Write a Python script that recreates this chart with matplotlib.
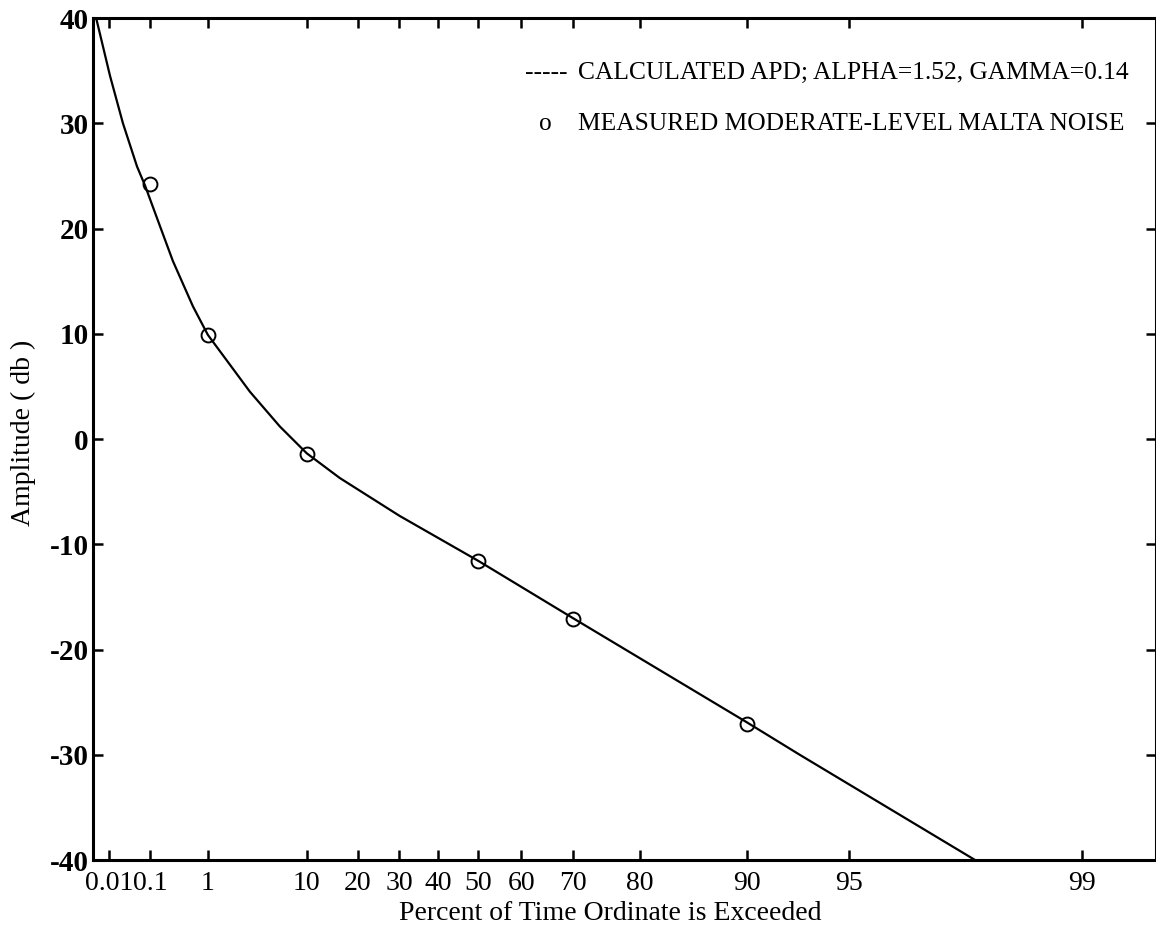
import matplotlib.pyplot as plt
import numpy as np

# percent of time the ordinate is exceeded
curve_pct = [0.0042, 0.0107, 0.0236, 0.0517, 0.078, 0.139, 0.279, 0.603, 1.0,
             3.24, 6.2, 10.0, 16.1, 30.1, 50.2, 70.0, 90.0, 93.0, 97.9]
curve_db = [40.0, 34.5, 30.0, 25.9, 24.1, 21.0, 16.9, 12.6, 9.9,
            4.5, 1.2, -1.35, -3.7, -7.3, -11.6, -17.0, -26.9, -30.0, -40.0]

meas_pct = [0.1, 1, 10, 50, 70, 90]
meas_db = [24.2, 9.9, -1.4, -11.6, -17.1, -27.1]

tick_pct = [0.01, 0.1, 1, 10, 20, 30, 40, 50, 60, 70, 80, 90, 95, 99]
tick_labels = ['0.01', '0.1', '1', '10', '20', '30', '40', '50', '60',
               '70', '80', '90', '95', '99']
y_ticks = [-40, -30, -20, -10, 0, 10, 20, 30, 40]


def rayleigh_fwd(p):
    p = np.clip(np.asarray(p, dtype=float), 1e-12, 100 - 1e-9)
    return -np.log10(-np.log(p / 100.0))


def rayleigh_inv(x):
    return 100.0 * np.exp(-10.0 ** (-np.asarray(x, dtype=float)))


plt.rcParams['font.family'] = ['Liberation Serif', 'DejaVu Serif']
plt.rcParams['axes.unicode_minus'] = False

fig = plt.figure(figsize=(11.56, 9.35), dpi=100)
ax = fig.add_axes([0.0804, 0.0802, 0.9196, 0.9005])
ax.set_xscale('function', functions=(rayleigh_fwd, rayleigh_inv))

ax.plot(curve_pct, curve_db, color='black', linewidth=1.6)
ax.plot(meas_pct, meas_db, linestyle='none', marker='o', markersize=10,
        markerfacecolor='none', markeredgecolor='black', markeredgewidth=1.4)

ax.set_xlim(0.00334, 99.405)
ax.set_ylim(-40, 40)
ax.set_xticks(tick_pct)
ax.set_xticklabels(tick_labels)
ax.xaxis.set_minor_locator(plt.NullLocator())
ax.set_yticks(y_ticks)

ax.tick_params(direction='in', length=7, width=1.8, top=True, right=True)
ax.tick_params(axis='x', labelsize=20, pad=8)
ax.tick_params(axis='y', labelsize=21, pad=3)
for lab in ax.get_yticklabels():
    lab.set_fontweight('bold')
for s in ax.spines.values():
    s.set_linewidth(2.2)

ax.set_xlabel('Percent of Time Ordinate is Exceeded', fontsize=20)
ax.xaxis.set_label_coords(0.487, -0.049)
ax.set_ylabel('Amplitude ( db )', fontsize=20)
ax.yaxis.set_label_coords(-0.054, 0.507)

# legend drawn as plain text, the way the original plot has it
ax.text(0.4064, 0.9347, '-----', transform=ax.transAxes, ha='left',
        va='center', fontsize=18.4)
ax.text(0.4252, 0.874, 'o', transform=ax.transAxes, ha='center',
        va='center', fontsize=18.4)
ax.text(0.4562, 0.9347, 'CALCULATED APD; ALPHA=1.52, GAMMA=0.14',
        transform=ax.transAxes, ha='left', va='center', fontsize=18.4)
ax.text(0.4562, 0.874, 'MEASURED MODERATE-LEVEL MALTA NOISE',
        transform=ax.transAxes, ha='left', va='center', fontsize=18.4)

fig.savefig('out.png', dpi=100)
